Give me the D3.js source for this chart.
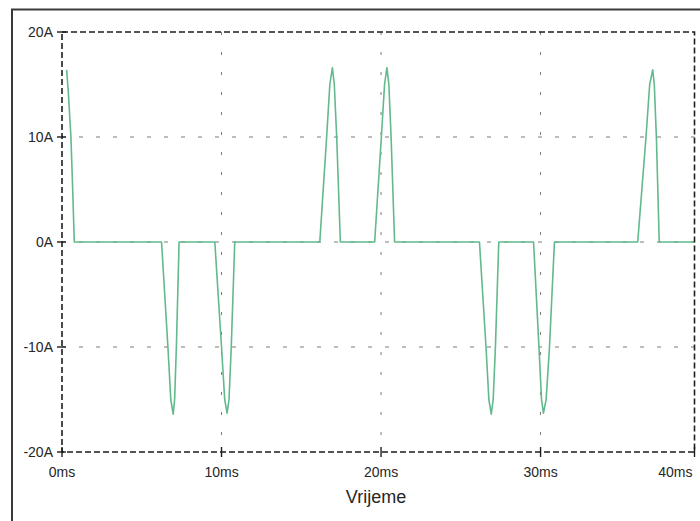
<!DOCTYPE html>
<html>
<head>
<meta charset="utf-8">
<script src="https://cdn.jsdelivr.net/npm/d3@7"></script>
<style>
  body { margin: 0; background: #fff; }
  svg { display: block; }
  text { font-family: "Liberation Sans", Arial, sans-serif; fill: #262626; }
</style>
</head>
<body>
<div id="chart"></div>
<script>
// time axis (ms) and current (A)
const timeMs = [
  0.29, 0.39, 0.56, 0.67, 0.77,
  6.24, 6.64, 6.82, 6.97, 7.06, 7.17, 7.34,
  9.58, 10.0, 10.2, 10.35, 10.47, 10.61, 10.83,
  16.16, 16.59, 16.79, 16.95, 17.07, 17.22, 17.45,
  19.60, 20.02, 20.22, 20.37, 20.49, 20.63, 20.85,
  26.17, 26.58, 26.76, 26.91, 27.03, 27.17, 27.38,
  29.56, 29.90, 30.06, 30.18, 30.35, 30.56, 30.87,
  36.09, 36.61, 36.84, 37.03, 37.13, 37.26, 37.44,
  39.65
];
const currentA = [
  16.4, 14.4, 10, 5, 0,
  0, -10, -15, -16.4, -15, -10, 0,
  0, -10, -15, -16.3, -15, -10, 0,
  0, 10, 15, 16.6, 15, 10, 0,
  0, 10, 15, 16.6, 15, 10, 0,
  0, -10, -15, -16.4, -15, -10, 0,
  0, -10, -15, -16.3, -15, -10, 0,
  0, 10, 15, 16.4, 15, 10, 0,
  0
];

const xEnd = 39.65;
const xTickValues = [0, 10, 20, 30, xEnd];
const xTickLabels = ["0ms", "10ms", "20ms", "30ms", "40ms"];
const yTickValues = [20, 10, 0, -10, -20];
const yTickLabels = ["20A", "10A", "0A", "-10A", "-20A"];
const xGrid = [10, 20, 30];
const yGrid = [10, 0, -10];

const W = 700, H = 521;
const plot = {left: 62, right: 694.5, top: 32, bottom: 452};

const svg = d3.select("#chart").append("svg")
    .attr("width", W)
    .attr("height", H);

// outer frame
svg.append("path")
    .attr("d", `M12,${H} L12,9.5 L${W},9.5`)
    .attr("fill", "none")
    .attr("stroke", "#3a3a3a")
    .attr("stroke-width", 2);

const x = d3.scaleLinear().domain([0, xEnd]).range([plot.left, plot.right]);
const y = d3.scaleLinear().domain([-20, 20]).range([plot.bottom, plot.top]);

// grid
svg.selectAll(".hgrid")
  .data(yGrid)
  .join("line")
    .attr("class", "hgrid")
    .attr("x1", plot.left).attr("x2", plot.right)
    .attr("y1", d => y(d)).attr("y2", d => y(d))
    .attr("stroke", "#7a7a7a")
    .attr("stroke-width", 1)
    .attr("stroke-dasharray", "4,13");

svg.selectAll(".vgrid")
  .data(xGrid)
  .join("line")
    .attr("class", "vgrid")
    .attr("x1", d => x(d)).attr("x2", d => x(d))
    .attr("y1", plot.top).attr("y2", plot.bottom)
    .attr("stroke", "#7a7a7a")
    .attr("stroke-width", 1)
    .attr("stroke-dasharray", "3,17");

// the trace
const line = d3.line()
  .x((d, i) => x(timeMs[i]))
  .y(d => y(d));

svg.append("path")
    .datum(currentA)
    .attr("d", line)
    .attr("fill", "none")
    .attr("stroke", "#62b98c")
    .attr("stroke-width", 1.6)
    .attr("stroke-linejoin", "round");

// dashed plot border
svg.append("rect")
    .attr("x", plot.left).attr("y", plot.top)
    .attr("width", plot.right - plot.left)
    .attr("height", plot.bottom - plot.top)
    .attr("fill", "none")
    .attr("stroke", "#1e1e1e")
    .attr("stroke-width", 1.6)
    .attr("stroke-dasharray", "6,3");

// ticks
svg.selectAll(".xtick")
  .data(xTickValues)
  .join("line")
    .attr("class", "xtick")
    .attr("x1", d => x(d)).attr("x2", d => x(d))
    .attr("y1", plot.bottom - 5).attr("y2", plot.bottom + 5)
    .attr("stroke", "#1e1e1e")
    .attr("stroke-width", 1.4);

svg.selectAll(".ytick")
  .data(yTickValues)
  .join("line")
    .attr("class", "ytick")
    .attr("x1", plot.left - 5).attr("x2", plot.left + 4)
    .attr("y1", d => y(d)).attr("y2", d => y(d))
    .attr("stroke", "#1e1e1e")
    .attr("stroke-width", 1.4);

// tick labels
svg.selectAll(".xlabel")
  .data(xTickValues)
  .join("text")
    .attr("class", "xlabel")
    .attr("x", (d, i) => i === xTickValues.length - 1 ? x(d) - 2 : x(d))
    .attr("y", plot.bottom + 25)
    .attr("text-anchor", (d, i) => i === xTickValues.length - 1 ? "end" : "middle")
    .style("font-size", "14px")
    .text((d, i) => xTickLabels[i]);

svg.selectAll(".ylabel")
  .data(yTickValues)
  .join("text")
    .attr("class", "ylabel")
    .attr("x", plot.left - 9)
    .attr("y", d => y(d) + 5)
    .attr("text-anchor", "end")
    .style("font-size", "14px")
    .text((d, i) => yTickLabels[i]);

// axis title
svg.append("text")
    .attr("x", 376)
    .attr("y", 503)
    .attr("text-anchor", "middle")
    .style("font-size", "18px")
    .text("Vrijeme");
</script>
</body>
</html>
